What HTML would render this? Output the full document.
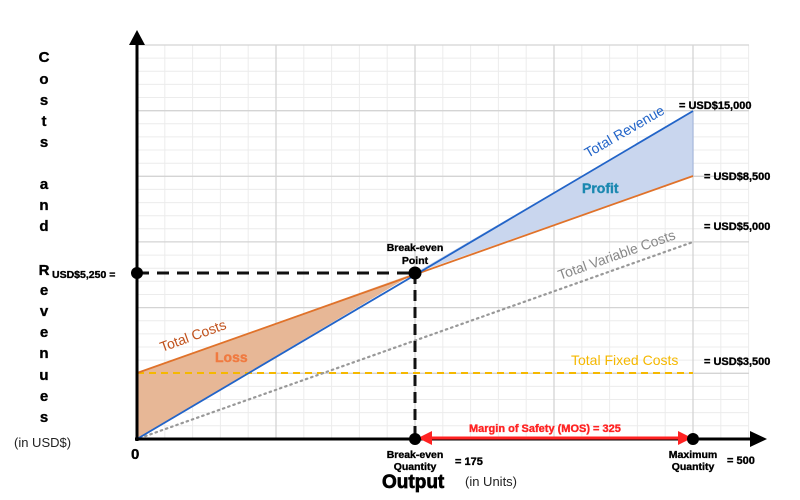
<!DOCTYPE html>
<html><head><meta charset="utf-8"><style>
body{margin:0;background:#fff;}
svg{display:block;font-family:"Liberation Sans",Arial,sans-serif;}
.b{font-weight:bold;stroke:#000;stroke-width:0.35;}
</style></head><body>
<svg width="800" height="500" viewBox="0 0 800 500" xmlns="http://www.w3.org/2000/svg">
<!-- minor grid -->
<path fill="none" stroke="#ececec" stroke-width="1" d="
M164.8,45V439 M192.6,45V439 M220.4,45V439 M248.2,45V439 M303.8,45V439 M331.6,45V439 M359.4,45V439 M387.2,45V439
M442.8,45V439 M470.6,45V439 M498.4,45V439 M526.2,45V439 M581.8,45V439 M609.6,45V439 M637.4,45V439 M665.2,45V439 M720.8,45V439 M748.6,45V439
M137,58.1H749 M137,71.3H749 M137,84.4H749 M137,97.5H749 M137,123.8H749 M137,136.9H749 M137,150H749 M137,163.2H749
M137,189.4H749 M137,202.6H749 M137,215.7H749 M137,228.8H749 M137,255.1H749 M137,268.2H749 M137,281.3H749 M137,294.5H749
M137,320.7H749 M137,333.9H749 M137,347H749 M137,360.1H749 M137,386.4H749 M137,399.5H749 M137,412.6H749 M137,425.8H749"/>
<!-- major grid -->
<path fill="none" stroke="#d4d4d4" stroke-width="1.3" d="
M276,45V439 M415,45V439 M554,45V439 M693,45V439
M137,45H749 M137,110.7H749 M137,176.3H749 M137,241.9H749 M137,307.6H749 M137,373.3H749"/>
<!-- fills -->
<polygon points="137,373 415,273 137,439" fill="#e7b796"/>
<polygon points="415,273 693,111 693,176" fill="#c9d6ee"/>
<line x1="693" y1="111" x2="693" y2="176" stroke="#9fb3d9" stroke-width="1"/>
<line x1="137" y1="373" x2="693" y2="373" stroke="#f5b800" stroke-width="2" stroke-dasharray="7,5"/>
<line x1="140" y1="438" x2="693" y2="242" stroke="#999" stroke-width="2.2" stroke-dasharray="1.5,4" stroke-linecap="round"/>
<line x1="137" y1="373" x2="693" y2="176" stroke="#e0722a" stroke-width="1.8"/>
<line x1="137" y1="439" x2="693" y2="111" stroke="#2264c8" stroke-width="1.8"/>
<line x1="137" y1="273" x2="415" y2="273" stroke="#111" stroke-width="3" stroke-dasharray="12,8"/>
<line x1="415" y1="273" x2="415" y2="439" stroke="#111" stroke-width="3" stroke-dasharray="11,6"/>
<line x1="137" y1="441" x2="137" y2="42" stroke="#000" stroke-width="3"/>
<polygon points="137,30 129,45 145,45" fill="#000"/>
<line x1="135" y1="439" x2="752" y2="439" stroke="#000" stroke-width="3"/>
<polygon points="767,439 750,431 750,447" fill="#000"/>
<line x1="425" y1="438" x2="685" y2="438" stroke="#f22" stroke-width="3"/>
<polygon points="418,438 432,431 432,445" fill="#f22"/>
<polygon points="692,438 678,431 678,445" fill="#f22"/>
<circle cx="137" cy="273" r="6" fill="#000"/>
<circle cx="415" cy="273" r="6.5" fill="#000"/>
<circle cx="415" cy="439" r="6" fill="#000"/>
<circle cx="693" cy="439" r="6" fill="#000"/>
<g class="b" font-size="15" text-anchor="middle" fill="#000">
<text x="44" y="62">C</text><text x="44" y="84">o</text><text x="44" y="105">s</text><text x="44" y="126">t</text><text x="44" y="147">s</text>
<text x="44" y="189">a</text><text x="44" y="210">n</text><text x="44" y="231">d</text>
<text x="44" y="275">R</text><text x="44" y="295">e</text><text x="44" y="316">v</text><text x="44" y="337">e</text><text x="44" y="358">n</text><text x="44" y="380">u</text><text x="44" y="401">e</text><text x="44" y="422">s</text>
</g>
<text x="14" y="447" font-size="13" fill="#222">(in USD$)</text>
<text class="b" x="52" y="278" font-size="10.5">USD$5,250 =</text>
<text class="b" x="131" y="459" font-size="15">0</text>
<text class="b" x="415" y="251" font-size="10.5" text-anchor="middle">Break-even</text>
<text class="b" x="415" y="264" font-size="10.5" text-anchor="middle">Point</text>
<text class="b" x="415" y="458" font-size="10.5" text-anchor="middle">Break-even</text>
<text class="b" x="415" y="470" font-size="10.5" text-anchor="middle">Quantity</text>
<text class="b" x="455" y="465" font-size="11">= 175</text>
<text class="b" x="693" y="458" font-size="10.5" text-anchor="middle">Maximum</text>
<text class="b" x="693" y="470" font-size="10.5" text-anchor="middle">Quantity</text>
<text class="b" x="727" y="464" font-size="11">= 500</text>
<text class="b" x="382" y="488" font-size="19" style="stroke-width:0.7">Output</text>
<text x="465" y="486" font-size="13" fill="#222">(in Units)</text>
<text x="469" y="432" font-size="11" font-weight="bold" fill="#f22" stroke="#f22" stroke-width="0.35">Margin of Safety (MOS) = 325</text>
<text class="b" x="679" y="109" font-size="11">= USD$15,000</text>
<text class="b" x="704" y="180" font-size="11">= USD$8,500</text>
<text class="b" x="704" y="230" font-size="11">= USD$5,000</text>
<text class="b" x="704" y="365" font-size="11">= USD$3,500</text>
<text x="571" y="365" font-size="14" fill="#f5b800">Total Fixed Costs</text>
<text x="582" y="193" font-size="14" font-weight="bold" fill="#1a88b0" stroke="#1a88b0" stroke-width="0.4">Profit</text>
<text x="215" y="362" font-size="14" font-weight="bold" fill="#f07a40" stroke="#f07a40" stroke-width="0.4">Loss</text>
<text transform="translate(588,158) rotate(-30)" font-size="14" fill="#2264c8">Total Revenue</text>
<text transform="translate(162,352) rotate(-19.8)" font-size="14" fill="#c0501a">Total Costs</text>
<text transform="translate(560,280) rotate(-19.5)" font-size="14" fill="#888">Total Variable Costs</text>
</svg>
</body></html>
